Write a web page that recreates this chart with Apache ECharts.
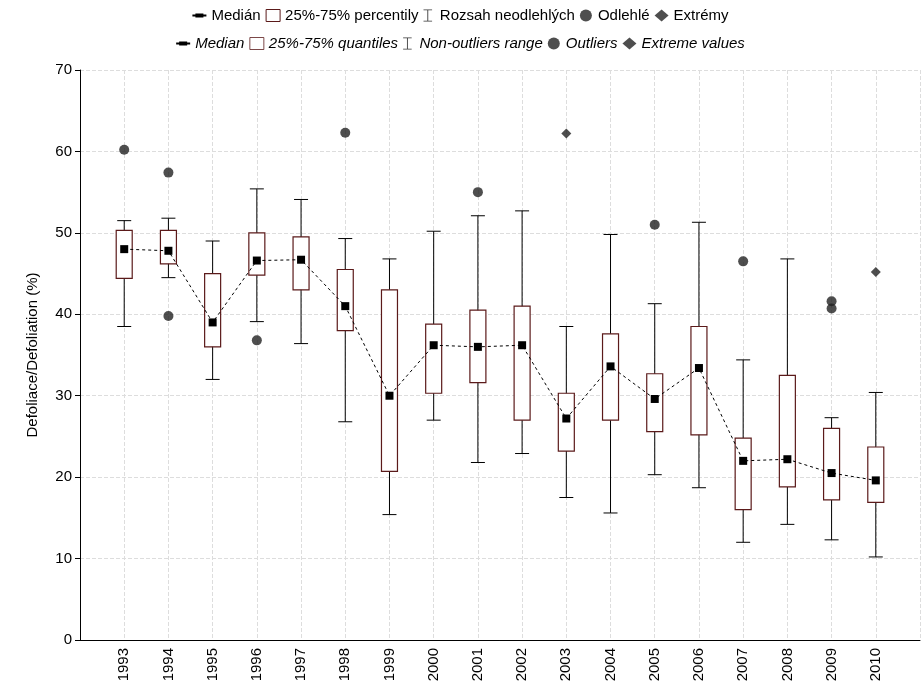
<!DOCTYPE html>
<html><head><meta charset="utf-8">
<script src="https://cdn.jsdelivr.net/npm/echarts@6/dist/echarts.min.js"></script>
<style>html,body{margin:0;background:#fff}#c{width:921px;height:693px}</style>
</head><body><div id="c"></div>
<script>
var years = [1993,1994,1995,1996,1997,1998,1999,2000,2001,2002,2003,2004,2005,2006,2007,2008,2009,2010];
// [low whisker, q1, median, q3, high whisker]
var boxes = [
	[38.5,44.4,48.0,50.3,51.5],
	[44.5,46.2,47.8,50.3,51.8],
	[32.0,36.0,39.0,45.0,49.0],
	[39.1,44.8,46.6,50.0,55.4],
	[36.4,43.0,46.7,49.5,54.1],
	[26.8,38.0,41.0,45.5,49.3],
	[15.4,20.7,30.0,43.0,46.8],
	[27.0,30.3,36.2,38.8,50.2],
	[21.8,31.6,36.0,40.5,52.1],
	[22.9,27.0,36.2,41.0,52.7],
	[17.5,23.2,27.2,30.3,38.5],
	[15.6,27.0,33.6,37.6,49.8],
	[20.3,25.6,29.6,32.7,41.3],
	[18.7,25.2,33.4,38.5,51.3],
	[12.0,16.0,22.0,24.8,34.4],
	[14.2,18.8,22.2,32.5,46.8],
	[12.3,17.2,20.5,26.0,27.3],
	[10.2,16.9,19.6,23.7,30.4]
];
var outliers = [[1993,60.2],[1994,57.4],[1994,39.8],[1996,36.8],[1998,62.3],[2001,55.0],[2005,51.0],[2007,46.5],[2009,41.6],[2009,40.7]];
var extremes = [[2003,62.2],[2010,45.2]];

var boxData = years.map(function(y,i){ return [y].concat(boxes[i]); });
var medians = years.map(function(y,i){ return [y, boxes[i][2]]; });

var whiskerIcon = 'path://M0,0H10V1H5.5V13H10V14H0V13H4.5V1H0Z';
var medIcon = 'path://M0,6H3V5H11V6H14V8H11V9H3V8H0Z';
var boxColor = '#5b1a1a';
var boxLegendStyle = {color:'#fff', borderColor:boxColor, borderWidth:1};

function renderBox(params, api){
	var x = api.value(0);
	var lo = api.coord([x, api.value(1)]), q1 = api.coord([x, api.value(2)]);
	var q3 = api.coord([x, api.value(4)]), hi = api.coord([x, api.value(5)]);
	var cx = lo[0], w = 16, cap = 7;
	var black = {stroke:'#000', lineWidth:1};
	return {type:'group', children:[
		{type:'line', shape:{x1:cx,y1:hi[1],x2:cx,y2:lo[1]}, style:black},
		{type:'line', shape:{x1:cx-cap,y1:hi[1],x2:cx+cap,y2:hi[1]}, style:black},
		{type:'line', shape:{x1:cx-cap,y1:lo[1],x2:cx+cap,y2:lo[1]}, style:black},
		{type:'rect', shape:{x:cx-w/2,y:q3[1],width:w,height:q1[1]-q3[1]}, style:{fill:'#fff',stroke:boxColor,lineWidth:1.2}}
	]};
}

var chart = echarts.init(document.getElementById('c'));
chart.setOption({
	animation:false,
	textStyle:{fontFamily:'Liberation Sans, Arial'},
	legend:[{
		top:3, left:'center', itemGap:5, itemWidth:14, itemHeight:12,
		textStyle:{fontSize:15,color:'#000'},
		data:[{name:'Medián',icon:medIcon},{name:'25%-75% percentily',icon:'rect',itemStyle:boxLegendStyle},{name:'Rozsah neodlehlých',icon:whiskerIcon},{name:'Odlehlé',icon:'circle'},{name:'Extrémy',icon:'diamond'}]
	},{
		top:31, left:'center', itemGap:5, itemWidth:14, itemHeight:12,
		textStyle:{fontSize:15,color:'#000',fontStyle:'italic'},
		data:[{name:'Median',icon:medIcon},{name:'25%-75% quantiles',icon:'rect',itemStyle:boxLegendStyle},{name:'Non-outliers range',icon:whiskerIcon},{name:'Outliers',icon:'circle'},{name:'Extreme values',icon:'diamond'}]
	}],
	grid:{left:80, right:1, top:70, bottom:53},
	xAxis:{type:'value', min:1992, max:2011, interval:1,
		axisLine:{lineStyle:{color:'#000'}}, axisTick:{show:false},
		axisLabel:{rotate:90, color:'#000', fontSize:15, showMinLabel:false, showMaxLabel:false,
			formatter:function(v){ return (v<=1992||v>=2011)?'':String(v); }},
		splitLine:{show:true, lineStyle:{color:'#ddd',type:'dashed'}}},
	yAxis:{type:'value', min:0, max:70, interval:10,
		name:'Defoliace/Defoliation (%)', nameLocation:'middle', nameGap:40,
		nameTextStyle:{fontSize:15,color:'#000'},
		axisLine:{show:true,lineStyle:{color:'#000'}}, axisTick:{show:true,lineStyle:{color:'#000'}},
		axisLabel:{color:'#000',fontSize:15},
		splitLine:{lineStyle:{color:'#ddd',type:'dashed'}}},
	series:[
		{name:'25%-75% percentily', type:'custom', data:boxData, renderItem:renderBox,
			encode:{x:0,y:[1,2,3,4,5]}, itemStyle:boxLegendStyle},
		{name:'Medián', type:'line', data:medians, symbol:'rect', symbolSize:8,
			lineStyle:{color:'#000',type:[3,3],width:1}, itemStyle:{color:'#000'}, z:5},
		{name:'Odlehlé', type:'scatter', data:outliers, symbol:'circle', symbolSize:10, itemStyle:{color:'#222'}},
		{name:'Extrémy', type:'scatter', data:extremes, symbol:'diamond', symbolSize:10, itemStyle:{color:'#222'}},
		{name:'Rozsah neodlehlých', type:'scatter', data:[], itemStyle:{color:'#000'}},
		{name:'Median', type:'line', data:[], itemStyle:{color:'#000'}, lineStyle:{color:'#000'}},
		{name:'25%-75% quantiles', type:'scatter', data:[], itemStyle:boxLegendStyle},
		{name:'Non-outliers range', type:'scatter', data:[], itemStyle:{color:'#000'}},
		{name:'Outliers', type:'scatter', data:[], itemStyle:{color:'#222'}},
		{name:'Extreme values', type:'scatter', data:[], itemStyle:{color:'#222'}}
	]
});
</script></body></html>
